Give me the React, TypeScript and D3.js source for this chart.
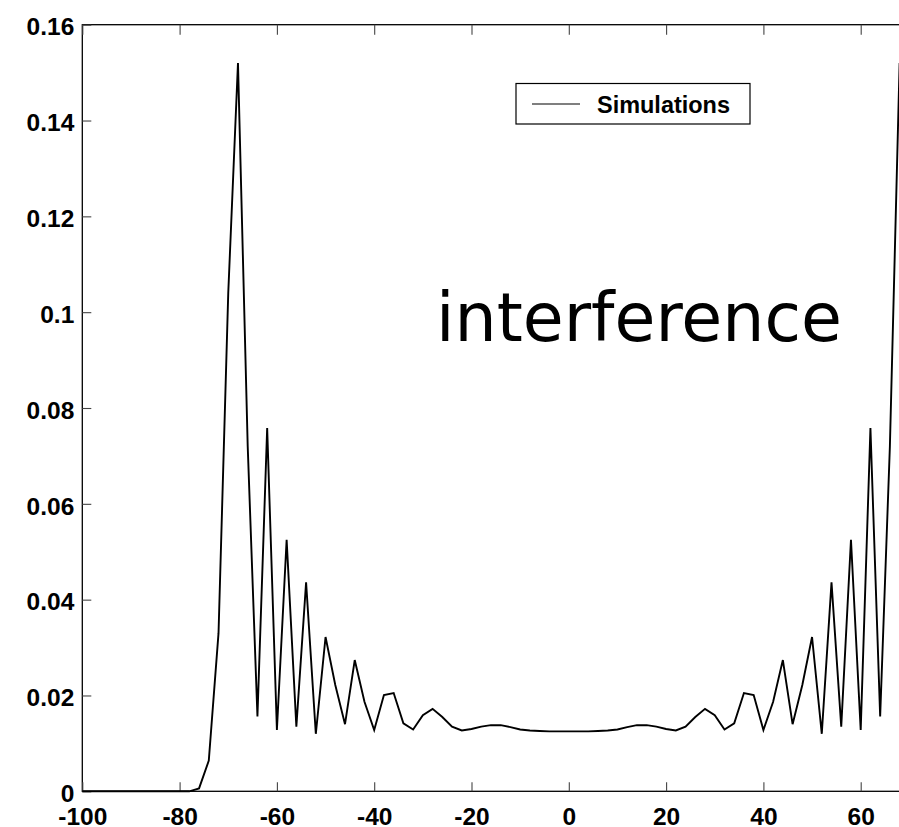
import React, { useEffect, useRef } from 'react';
import * as d3 from 'd3';

// sampling grid of the simulation (step 2), only the visible part
const positions: number[] = d3.range(-100, 73, 2);

const simulations: number[] = [
  0, 0, 0, 0, 0, 0, 0, 0, 0, 0, 0, 0,          // -100 .. -78
  0.0006, 0.0064, 0.033, 0.104, 0.152, 0.072,   // -76 .. -66
  0.0156, 0.0758, 0.0128, 0.0525, 0.0135, 0.0436, // -64 .. -54
  0.0120, 0.0322, 0.0222, 0.0140, 0.0274, 0.0187, // -52 .. -42
  0.0128, 0.0201, 0.0205, 0.0142, 0.0129, 0.0159, // -40 .. -30
  0.0172, 0.0155, 0.0135, 0.0127, 0.0130, 0.0135, // -28 .. -18
  0.0138, 0.0138, 0.0134, 0.0129, 0.0127, 0.0126, // -16 .. -6
  0.0125, 0.0125, 0.0125, 0.0125, 0.0125,         // -4 .. 4
  0.0126, 0.0127, 0.0129, 0.0134, 0.0138, 0.0138, // 6 .. 16
  0.0135, 0.0130, 0.0127, 0.0135, 0.0155, 0.0172, // 18 .. 28
  0.0159, 0.0129, 0.0142, 0.0205, 0.0201, 0.0128, // 30 .. 40
  0.0187, 0.0274, 0.0140, 0.0222, 0.0322, 0.0120, // 42 .. 52
  0.0436, 0.0135, 0.0525, 0.0128, 0.0758, 0.0156, // 54 .. 64
  0.072, 0.152, 0.104, 0.033                      // 66 .. 72
];

const xTicks: number[] = [-100, -80, -60, -40, -20, 0, 20, 40, 60, 80, 100];
const yTicks: number[] = [0, 0.02, 0.04, 0.06, 0.08, 0.1, 0.12, 0.14, 0.16];

const seriesName = 'Simulations';
const annotation = 'interference';

const App = () => {
  const ref = useRef<SVGSVGElement>(null);

  useEffect(() => {
    document.body.style.margin = '0';

    const width = 899, height = 827;
    const margin = { top: 24.7, left: 82.3, bottom: 791.3 };
    const right = margin.left + 200 * 4.865; // plot continues past the window edge

    const svg = d3.select(ref.current);
    svg.selectAll('*').remove();

    const x = d3.scaleLinear().domain([-100, 100]).range([margin.left, right]);
    const y = d3.scaleLinear().domain([0, 0.16]).range([margin.bottom, margin.top]);

    const labelFont = "'Liberation Sans', Arial, sans-serif";

    // frame
    svg.append('rect')
      .attr('x', margin.left)
      .attr('y', margin.top)
      .attr('width', right - margin.left)
      .attr('height', margin.bottom - margin.top)
      .attr('fill', 'none')
      .attr('stroke', '#000')
      .attr('stroke-width', 1.3);

    // ---- axes ----
    const bottomAxis = svg.append('g')
      .attr('transform', 'translate(0,' + margin.bottom + ')')
      .call(d3.axisBottom(x).tickValues(xTicks).tickSizeInner(-9).tickSizeOuter(0).tickPadding(16)
        .tickFormat((d) => String(d)));

    const topAxis = svg.append('g')
      .attr('transform', 'translate(0,' + margin.top + ')')
      .call(d3.axisTop(x).tickValues(xTicks).tickSizeInner(-10).tickSizeOuter(0).tickFormat(() => ''));

    const leftAxis = svg.append('g')
      .attr('transform', 'translate(' + margin.left + ',0)')
      .call(d3.axisLeft(y).tickValues(yTicks).tickSizeInner(-9).tickSizeOuter(0).tickPadding(8)
        .tickFormat((d) => String(+(+d).toFixed(2))));

    [bottomAxis, topAxis, leftAxis].forEach((g) => {
      g.select('.domain').remove();
      g.selectAll('line').attr('stroke', '#444').attr('stroke-width', 1.1);
      g.selectAll('text')
        .attr('fill', '#000')
        .style('font-family', labelFont)
        .style('font-weight', 'bold')
        .style('font-size', '24.5px');
    });
    leftAxis.selectAll('text').attr('dy', '0.42em');

    // ---- data line ----
    const line = d3.line<number>()
      .x((d, i) => x(positions[i]))
      .y((d) => y(d));

    svg.append('path')
      .datum(simulations)
      .attr('fill', 'none')
      .attr('stroke', '#000')
      .attr('stroke-width', 1.9)
      .attr('stroke-linejoin', 'miter')
      .attr('d', line);

    // ---- legend ----
    const legend = svg.append('g');
    legend.append('rect')
      .attr('x', 516).attr('y', 83.5)
      .attr('width', 234).attr('height', 40.5)
      .attr('fill', '#fff')
      .attr('stroke', '#000')
      .attr('stroke-width', 1.2);
    legend.append('line')
      .attr('x1', 532).attr('x2', 580)
      .attr('y1', 104).attr('y2', 104)
      .attr('stroke', '#000')
      .attr('stroke-width', 1.2);
    legend.append('text')
      .attr('x', 597).attr('y', 112.5)
      .attr('textLength', 133)
      .attr('lengthAdjust', 'spacingAndGlyphs')
      .style('font-family', labelFont)
      .style('font-weight', 'bold')
      .style('font-size', '23.5px')
      .text(seriesName);

    // ---- annotation ----
    svg.append('text')
      .attr('x', 436).attr('y', 341)
      .attr('textLength', 406)
      .attr('lengthAdjust', 'spacingAndGlyphs')
      .style('font-family', "'DejaVu Sans', sans-serif")
      .style('font-size', '68px')
      .text(annotation);

    svg.attr('width', width).attr('height', height);
  }, []);

  return (
    <div>
      <svg ref={ref} width="899" height="827" style={{ display: 'block', overflow: 'hidden' }}></svg>
    </div>
  );
};

export default App;
